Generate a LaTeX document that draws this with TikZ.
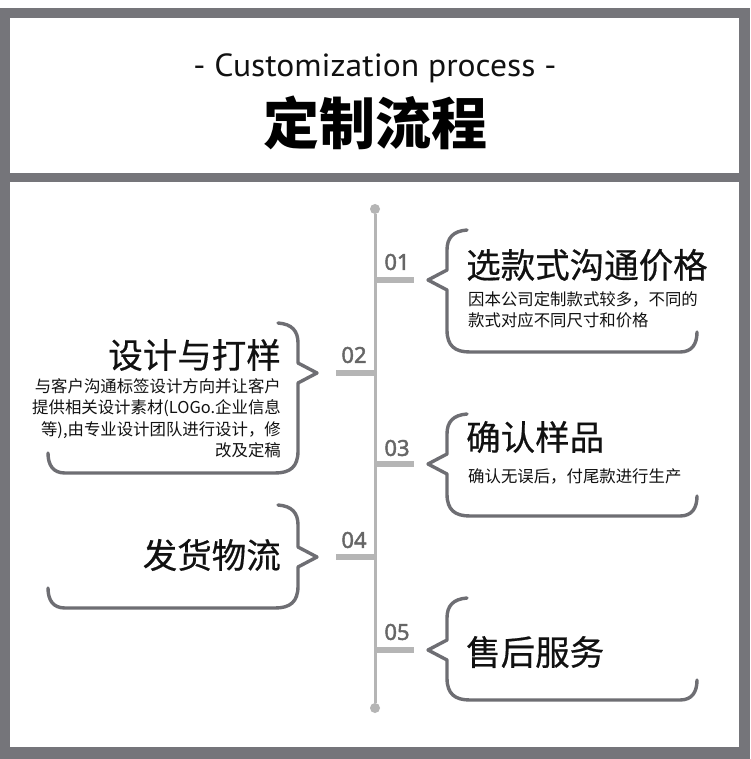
\documentclass[tikz,border=0pt]{standalone}
\usepackage{fontspec}
\setmainfont{Noto Sans}
\newfontfamily\cjk{Noto Sans CJK SC}
\newfontfamily\cjkm[FakeBold=0.5]{Noto Sans CJK SC}
\newfontfamily\numf[FakeBold=2]{Noto Sans}
\newfontfamily\hdr[FakeStretch=1.05]{PT Sans}
\definecolor{framegray}{HTML}{75757A}
\definecolor{bracegray}{HTML}{6E6E73}
\definecolor{tlgray}{HTML}{B5B5B5}
\definecolor{numgray}{HTML}{666666}
\definecolor{ink}{HTML}{111111}
\newcommand\RBrace[3]{% top, tip, bottom
  \draw[bracestyle] (467,#1) .. controls (453,{#1+1}) and (447,{#1+8}) .. (447,{#1+20})
    -- (447,{#2-10}) -- (428,#2) -- (447,{#2+10})
    -- (447,{#3-22}) .. controls (447,{#3-6}) and (455,#3) .. (470,#3)
    -- (680,#3) .. controls (692,#3) and (697,{#3-8}) .. (697,{#3-20});}
\begin{document}
\begin{tikzpicture}[x=1pt,y=-1pt,
  bracestyle/.style={draw=bracegray,line width=3.4pt,line cap=round,line join=round},
  dotnode/.style={circle,fill=tlgray,inner sep=0pt,minimum size=10pt},
  tick/.style={draw=tlgray,line width=6.5pt},
  numlabel/.style={text=numgray,font=\numf\fontsize{22}{22}\selectfont,inner sep=0pt},
  titleR/.style={anchor=west,inner sep=0pt,text=ink,font=\cjkm\fontsize{34.5}{34.5}\selectfont},
  titleL/.style={anchor=east,inner sep=0pt,text=ink,font=\cjkm\fontsize{34.5}{34.5}\selectfont},
  bodyR/.style={anchor=north west,inner sep=0pt,text=ink,align=left,font=\cjk\fontsize{16.4}{21.5}\selectfont},
  bodyL/.style={anchor=north east,inner sep=0pt,text=ink,align=right,font=\cjk\fontsize{16.4}{21.5}\selectfont}]
\useasboundingbox (0,0) rectangle (750,759);
\fill[white] (0,0) rectangle (750,759);
\fill[framegray] (0,8) rectangle (750,759);
\fill[white] (10,18) rectangle (739,173);
\fill[white] (10,182) rectangle (739,747);

% header
\node[inner sep=0pt,text=ink,font=\hdr\fontsize{32}{32}\selectfont] (sub) at (375,68) {- Customization process -};
\node[inner sep=0pt,text=black,font=\cjk\bfseries\fontsize{56}{56}\selectfont] (head) at (375,123) {定制流程};

% timeline
\node[dotnode] (tltop) at (375,209) {};
\node[dotnode] (tlbot) at (375,708) {};
\draw[tlgray,line width=3pt] (tltop) -- (tlbot);

\coordinate (t1) at (375,280); \coordinate (t1e) at (414,280);
\coordinate (t2) at (375,373); \coordinate (t2e) at (336,373);
\coordinate (t3) at (375,464); \coordinate (t3e) at (414,464);
\coordinate (t4) at (375,557); \coordinate (t4e) at (336,557);
\coordinate (t5) at (375,650); \coordinate (t5e) at (414,650);
\draw[tick] (t1) -- (t1e);
\draw[tick] (t2) -- (t2e);
\draw[tick] (t3) -- (t3e);
\draw[tick] (t4) -- (t4e);
\draw[tick] (t5) -- (t5e);

\node[numlabel] (n1) at (397,262) {01};
\node[numlabel] (n2) at (354,355) {02};
\node[numlabel] (n3) at (397,448) {03};
\node[numlabel] (n4) at (354,540) {04};
\node[numlabel] (n5) at (397,632) {05};

% braces
\RBrace{230}{280}{352}
\RBrace{414}{464}{516}
\RBrace{598}{650}{700}
\begin{scope}[cm={-1,0,0,1,(745pt,0pt)}]
\RBrace{323}{373}{473}
\RBrace{505}{557}{608}
\end{scope}

% texts
\node[titleR] (s1) at (466,265) {选款式沟通价格};
\node[bodyR] (b1) at (468,291) {因本公司定制款式较多，不同的\\款式对应不同尺寸和价格};

\node[titleL] (s2) at (281,355) {设计与打样};
\node[bodyL] (b2) at (281,378) {与客户沟通标签设计方向并让客户\\提供相关设计素材(LOGo.企业信息\\等),由专业设计团队进行设计，修\\改及定稿};

\node[titleR] (s3) at (466,437) {确认样品};
\node[bodyR] (b3) at (468,468) {确认无误后，付尾款进行生产};

\node[titleL] (s4) at (281,555) {发货物流};

\node[titleR] (s5) at (466,652) {售后服务};
\end{tikzpicture}
\end{document}
